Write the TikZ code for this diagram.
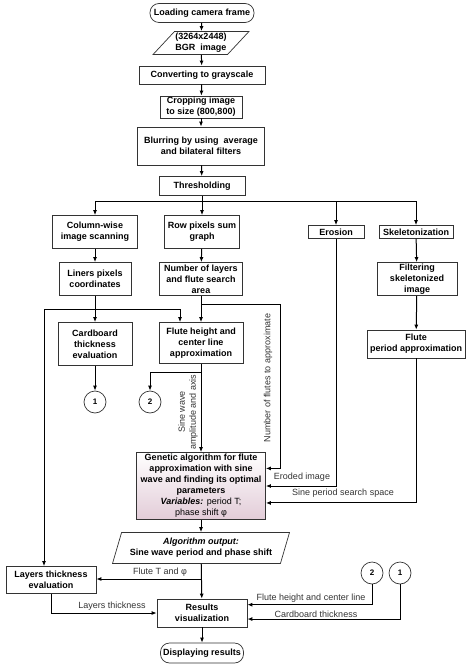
\documentclass[tikz,border=0pt]{standalone}
\usepackage{fontspec}
\setmainfont{Liberation Sans}
\usepackage{tikz}
\usetikzlibrary{arrows.meta,positioning,calc,shapes.geometric}

\definecolor{genpink}{RGB}{226,204,216}
\tikzset{
	box/.style={draw=black!80, line width=0.7pt, fill=white, align=center, inner sep=1pt, font=\fontsize{9}{11}\selectfont\bfseries},
	pill/.style={box, rounded corners=9pt},
	io/.style={box, trapezium, trapezium stretches body},
	conn/.style={draw=black!80, line width=0.7pt, fill=white, circle, minimum size=22pt, inner sep=0pt, font=\fontsize{8}{9}\selectfont\bfseries},
	flow/.style={line width=1pt, -{Latex[length=5pt,width=4pt]}},
	wire/.style={line width=1pt},
	lbl/.style={font=\fontsize{9}{11}\selectfont, text=black!80, inner sep=1pt, align=center},
}

\begin{document}
\begin{tikzpicture}[x=1pt,y=-1pt]
	\useasboundingbox (0,0) rectangle (474,668);
	% main column
	\node[pill, minimum width=104pt, minimum height=19pt] (load) at (202,13) {Loading camera frame};
	\node[io, trapezium left angle=45, trapezium right angle=135, minimum width=92pt, minimum height=23pt] (bgr) at (201,43) {(3264x2448)\\BGR\ \ image};
	\node[box, minimum width=126pt, minimum height=18pt] (gray) at (202,75) {Converting to grayscale};
	\node[box, minimum width=82pt, minimum height=22pt] (crop) at (201,107) {Cropping image\\to size (800,800)};
	\node[box, minimum width=127pt, minimum height=38pt] (blur) at (201,146) {Blurring by using\ \ average\\and bilateral filters};
	\node[box, minimum width=86pt, minimum height=19pt] (thr) at (202,186) {Thresholding};
	% branches
	\node[box, minimum width=85pt, minimum height=33pt] (col) at (95,232) {Column-wise\\image scanning};
	\node[box, minimum width=75pt, minimum height=33pt] (row) at (202,232) {Row pixels sum\\graph};
	\node[box, minimum width=56pt, minimum height=13pt] (ero) at (336,232) {Erosion};
	\node[box, minimum width=74pt, minimum height=13pt] (skel) at (416,232) {Skeletonization};
	\node[box, minimum width=72pt, minimum height=33pt] (liner) at (95,279) {Liners pixels\\coordinates};
	\node[box, minimum width=83pt, minimum height=33pt] (nlay) at (201,279) {Number of layers\\and flute search\\area};
	\node[box, minimum width=80pt, minimum height=33pt] (filt) at (417,279) {Filtering\\skeletonized\\image};
	\node[box, minimum width=74pt, minimum height=43pt] (card) at (95,344) {Cardboard\\thickness\\evaluation};
	\node[box, minimum width=84pt, minimum height=41pt] (flute) at (201,343) {Flute height and\\center line\\approximation};
	\node[box, minimum width=98pt, minimum height=28pt] (period) at (416,344) {Flute\\period approximation};
	\node[conn] (c1) at (95,402) {1};
	\node[conn] (c2) at (150,402) {2};
	% genetic algorithm
	\node[box, top color=white, bottom color=genpink, minimum width=129pt, minimum height=67pt] (gen) at (201,486) {Genetic algorithm for flute\\approximation with sine\\wave and finding its optimal\\parameters\\{\itshape Variables:} {\mdseries period T;}\\{\mdseries phase shift φ}};
	\node[io, trapezium left angle=67, trapezium right angle=113, minimum width=177pt, minimum height=31pt] (out) at (201,548) {{\itshape Algorithm output:}\\Sine wave period and phase shift};
	\node[box, minimum width=90pt, minimum height=27pt] (lay) at (51,580) {Layers thickness\\evaluation};
	\node[box, minimum width=90pt, minimum height=28pt] (res) at (202,613) {Results\\visualization};
	\node[conn] (c2b) at (372,573) {2};
	\node[conn] (c1b) at (400,573) {1};
	\node[pill, minimum width=83pt, minimum height=20pt] (disp) at (202,653) {Displaying results};

	% connectors
	\draw[flow] (load) -- (bgr);
	\draw[flow] (bgr) -- (gray);
	\draw[flow] (gray) -- (crop);
	\draw[flow] (crop) -- (blur);
	\draw[flow] (blur) -- (thr);
	\coordinate (split) at (202,202);
	\draw[wire] (thr) -- (split);
	\draw[flow] (split) -| (col);
	\draw[flow] (split) -- (row);
	\draw[flow] (split) -| (ero);
	\draw[flow] (split) -| (skel);
	\draw[flow] (col) -- (liner);
	\draw[flow] (row) -- (nlay);
	\draw[flow] (skel) -- (filt);
	\draw[flow] (filt) -- (period);
	\draw[flow] (liner) -- (card);
	\coordinate (lbend) at (44,309);
	\coordinate (fbend) at (180,309);
	\draw[wire] (lbend) -- (fbend);
	\draw[flow] (fbend) -- (fbend |- flute.north);
	\draw[flow] (lbend) -- (lbend |- lay.north);
	\draw[flow] (nlay) -- (flute);
	\coordinate (jn) at (201,304);
	\coordinate (nbend) at (280,304);
	\draw[flow] (jn) -- (nbend) |- ($(gen.north east)!0.24!(gen.south east)$);
	\node[lbl, rotate=90] (nflbl) at (268,378) {Number of flutes to approximate};
	\draw[flow] (card) -- (c1);
	\draw[flow] (flute) -- (gen);
	\coordinate (jf) at (201,372);
	\draw[flow] (jf) -| (c2);
	\node[lbl, rotate=90] (swlbl) at (188,412) {Sine wave\\amplitude and axis};
	\draw[flow] (ero) |- (gen.east);
	\node[lbl] (erlbl) at (302,477) {Eroded image};
	\draw[flow] (period) |- ($(gen.north east)!0.75!(gen.south east)$);
	\node[lbl] (splbl) at (343,493) {Sine period search space};
	\draw[flow] (gen) -- (out);
	\draw[flow] (out) -- (res);
	\coordinate (jo) at (201,579);
	\draw[flow] (jo) -- (jo -| lay.east);
	\node[lbl] (ftlbl) at (160,572) {Flute T and φ};
	\draw[flow] (lay.south) |- (res.west);
	\node[lbl] (ltlbl) at (112,606) {Layers thickness};
	\draw[flow] (c2b) |- ($(res.north east)!0.21!(res.south east)$);
	\node[lbl] (fhlbl) at (311,598) {Flute height and center line};
	\draw[flow] (c1b) |- ($(res.north east)!0.71!(res.south east)$);
	\node[lbl] (cblbl) at (316,614) {Cardboard thickness};
	\draw[flow] (res) -- (disp);
\end{tikzpicture}
\end{document}
